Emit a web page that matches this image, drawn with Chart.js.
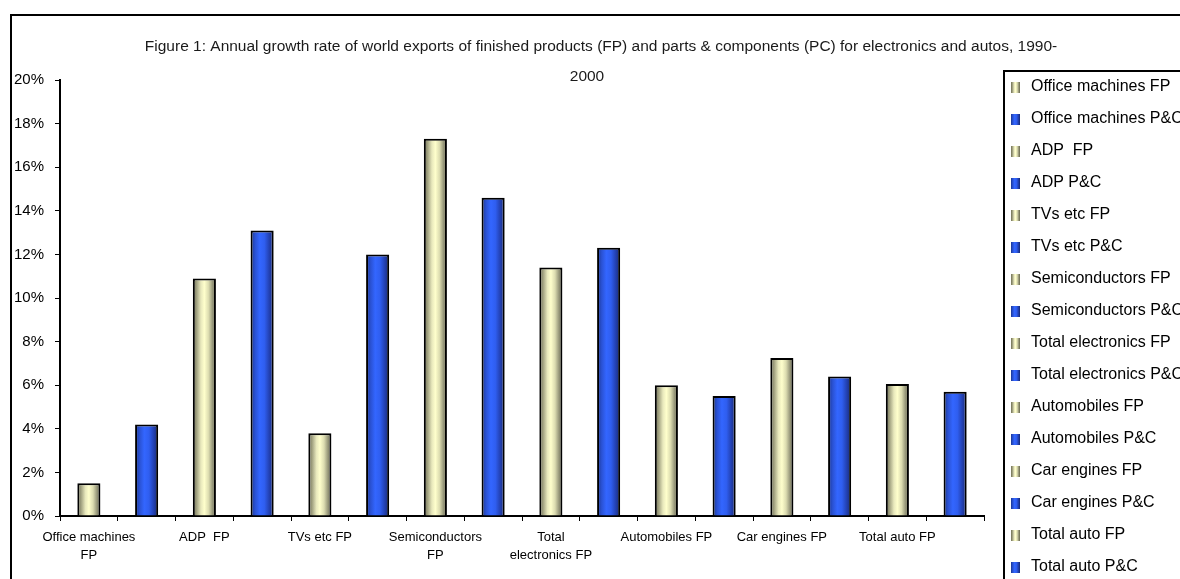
<!DOCTYPE html>
<html>
<head>
<meta charset="utf-8">
<script src="https://cdn.jsdelivr.net/npm/chart.js@4/dist/chart.umd.min.js"></script>
<style>
  html, body { margin: 0; padding: 0; background: #fff; }
  #wrap { width: 1180px; height: 579px; }
</style>
</head>
<body>
<div id="wrap"><canvas id="myChart" width="1180" height="579"></canvas></div>
<script>
// datos del grafico
const categories = [
  "Office machines FP", "Office machines P&C",
  "ADP  FP", "ADP P&C",
  "TVs etc FP", "TVs etc P&C",
  "Semiconductors FP", "Semiconductors P&C",
  "Total electronics FP", "Total electronics P&C",
  "Automobiles FP", "Automobiles P&C",
  "Car engines FP", "Car engines P&C",
  "Total auto FP", "Total auto P&C"
];
const growthRates = [1.5, 4.2, 10.9, 13.1, 3.8, 12.0, 17.3, 14.6, 11.4, 12.3, 6.0, 5.5, 7.25, 6.4, 6.05, 5.7];
// etiquetas del eje x (Excel solo enseña una de cada dos)
const xTickLabels = [
  ["Office machines", "FP"], "", "ADP  FP", "", "TVs etc FP", "",
  ["Semiconductors", "FP"], "", ["Total", "electronics FP"], "",
  "Automobiles FP", "", "Car engines FP", "", "Total auto FP", ""
];
const yTicks = [0, 2, 4, 6, 8, 10, 12, 14, 16, 18, 20];
const titleLines = [
  "Figure 1: Annual growth rate of world exports of finished products (FP) and parts & components (PC) for electronics and autos, 1990-",
  "2000"
];

const FONT = "'Liberation Sans', Arial, sans-serif";

// degradado tipo cilindro
function makeGradient(c, x0, x1, isFP) {
  const g = c.createLinearGradient(x0, 0, x1, 0);
  if (isFP) {
    g.addColorStop(0, "#6e6e52");
    g.addColorStop(0.15, "#9c9c7c");
    g.addColorStop(0.35, "#e8e8bc");
    g.addColorStop(0.5, "#ffffcc");
    g.addColorStop(0.68, "#dcdcb0");
    g.addColorStop(0.85, "#97977a");
    g.addColorStop(1, "#66664c");
  } else {
    g.addColorStop(0, "#1a3590");
    g.addColorStop(0.2, "#2a52d4");
    g.addColorStop(0.4, "#3366ff");
    g.addColorStop(0.6, "#2f5ef0");
    g.addColorStop(0.82, "#223fae");
    g.addColorStop(1, "#182a70");
  }
  return g;
}

function isFP(i) { return categories[i].endsWith("FP"); }

function barFill(context) {
  const chart = context.chart;
  const i = context.dataIndex;
  if (context.type !== "data") return "#3366ff";
  const xs = chart.scales.x;
  if (!xs || !chart.chartArea) return isFP(i) ? "#ffffcc" : "#3366ff";
  const cx = xs.getPixelForValue(i);
  const w = xs.width / categories.length * 0.4;
  return makeGradient(chart.ctx, cx - w / 2, cx + w / 2, isFP(i));
}

// titulo, leyenda y marco dibujados a mano
const extras = {
  id: "extras",
  afterDraw(chart) {
    const c = chart.ctx;
    c.save();
    // marco exterior
    c.strokeStyle = "#000";
    c.lineWidth = 2;
    c.strokeRect(11, 15, 1200, 600);
    // titulo
    c.fillStyle = "#1a1a1a";
    c.font = "15.5px " + FONT;
    c.textAlign = "center";
    c.textBaseline = "middle";
    c.fillText(titleLines[0], 601, 47);
    c.fillText(titleLines[1], 587, 77);
    // leyenda
    c.strokeRect(1004, 71, 200, 540);
    c.font = "16px " + FONT;
    c.textAlign = "left";
    for (let k = 0; k < categories.length; k++) {
      const y = 87 + k * 32;
      c.fillStyle = makeGradient(c, 1011, 1020, isFP(k));
      c.fillRect(1011, y - 5, 9, 11);
      c.fillStyle = "#000";
      c.fillText(categories[k], 1031, y);
    }
    c.restore();
  }
};

const ctx = document.getElementById("myChart").getContext("2d");
const myChart = new Chart(ctx, {
  type: "bar",
  data: {
    labels: categories,
    datasets: [{
      label: "growth",
      data: growthRates,
      backgroundColor: barFill,
      borderColor: "#000",
      borderWidth: 2,
      borderSkipped: "bottom",
      barPercentage: 0.4,
      categoryPercentage: 1.0
    }]
  },
  options: {
    responsive: false,
    animation: false,
    layout: { padding: { top: 80, left: 0, right: 196, bottom: 0 } },
    plugins: {
      legend: { display: false },
      title: { display: false },
      tooltip: { enabled: false }
    },
    scales: {
      x: {
        grid: { display: true, offset: true, drawOnChartArea: false, tickLength: 5, color: "#000", lineWidth: 1 },
        border: { color: "#000", width: 2 },
        ticks: {
          autoSkip: false,
          maxRotation: 0,
          padding: 7,
          color: "#000",
          font: { family: FONT, size: 13, lineHeight: 1.4 },
          callback: (v, i) => xTickLabels[i]
        },
        afterFit: (s) => { s.height = 63; }
      },
      y: {
        min: 0,
        max: 20,
        afterBuildTicks: (s) => { s.ticks = yTicks.map(v => ({ value: v })); },
        grid: { display: true, drawOnChartArea: false, tickLength: 5, color: "#000", lineWidth: 1 },
        border: { color: "#000", width: 2 },
        ticks: {
          padding: 11,
          color: "#000",
          font: { family: FONT, size: 15 },
          callback: (v) => v + "%"
        },
        afterFit: (s) => { s.width = 60; }
      }
    }
  },
  plugins: [extras]
});
</script>
</body>
</html>
